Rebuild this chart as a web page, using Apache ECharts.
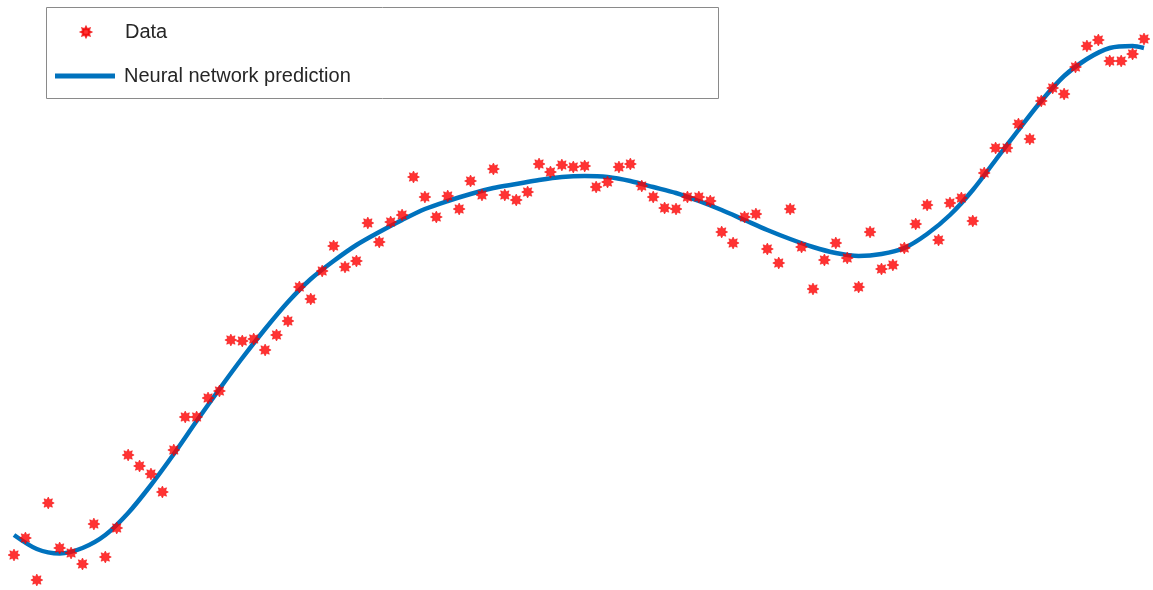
<!DOCTYPE html>
<html>
<head>
<meta charset="utf-8">
<title>Neural network fit</title>
<script src="https://cdn.jsdelivr.net/npm/echarts@6/dist/echarts.min.js"></script>
<style>
  html, body { margin: 0; padding: 0; background: #ffffff; }
  #chart { width: 1153px; height: 590px; }
</style>
</head>
<body>
<div id="chart"></div>
<script>
// Observed samples (index 0..99) and their noisy responses
const sampleX = Array.from({ length: 100 }, (_, i) => i);
const sampleY = [
  0.25, 0.42, 0.00, 0.77, 0.32, 0.27, 0.16, 0.56, 0.23, 0.52,
  1.25, 1.14, 1.06, 0.88, 1.30, 1.63, 1.63, 1.82, 1.89, 2.40,
  2.39, 2.41, 2.30, 2.45, 2.59, 2.93, 2.81, 3.09, 3.34, 3.13,
  3.19, 3.57, 3.38, 3.58, 3.65, 4.03, 3.83, 3.63, 3.84, 3.71,
  3.99, 3.85, 4.11, 3.85, 3.80, 3.88, 4.16, 4.08, 4.15, 4.13,
  4.14, 3.93, 3.98, 4.13, 4.16, 3.94, 3.83, 3.72, 3.71, 3.83,
  3.83, 3.79, 3.48, 3.37, 3.63, 3.66, 3.31, 3.17, 3.71, 3.33,
  2.91, 3.20, 3.37, 3.22, 2.93, 3.48, 3.11, 3.15, 3.32, 3.56,
  3.75, 3.40, 3.77, 3.82, 3.59, 4.07, 4.32, 4.32, 4.56, 4.41,
  4.79, 4.92, 4.86, 5.13, 5.34, 5.40, 5.19, 5.19, 5.26, 5.41
];

// Network output evaluated along the input range
const predX = [
  0, 2, 4, 6, 8, 10, 12, 14, 16, 18,
  20, 22, 24, 26, 28, 30, 32, 34, 36, 38,
  40, 42, 44, 46, 48, 50, 52, 54, 56, 58,
  60, 62, 64, 66, 68, 70, 72, 74, 76, 78,
  80, 82, 84, 86, 88, 90, 92, 94, 96, 98, 99
];
const predY = [
  0.45, 0.31, 0.265, 0.32, 0.45, 0.67, 0.95, 1.26, 1.59, 1.91,
  2.22, 2.51, 2.78, 3.01, 3.19, 3.35, 3.48, 3.60, 3.71, 3.79,
  3.86, 3.92, 3.96, 4.00, 4.03, 4.04, 4.03, 3.99, 3.93, 3.87,
  3.79, 3.70, 3.60, 3.50, 3.41, 3.33, 3.27, 3.24, 3.26, 3.32,
  3.46, 3.65, 3.90, 4.20, 4.50, 4.79, 5.04, 5.21, 5.32, 5.34, 5.32
];

const seriesNames = ['Data', 'Neural network prediction'];

// Eight-spoke asterisk marker
const asterisk = 'path://M20,10 L15.54,12.30 L17.07,17.07 L12.30,15.54 L10,20 L7.70,15.54 L2.93,17.07 L4.46,12.30 L0,10 L4.46,7.70 L2.93,2.93 L7.70,4.46 L10,0 L12.30,4.46 L17.07,2.93 L15.54,7.70 Z';

const legendFont = {
  fontFamily: 'Liberation Sans, Arial, sans-serif',
  fontSize: 20,
  color: '#262626'
};

const chart = echarts.init(document.getElementById('chart'), null, { renderer: 'canvas' });

chart.setOption({
  backgroundColor: '#ffffff',
  animation: false,
  grid: { left: 14, right: 9, top: 20, bottom: 10 },
  xAxis: { type: 'value', min: 0, max: 99, show: false },
  yAxis: { type: 'value', min: 0, max: 5.6, show: false },
  graphic: [{
    type: 'rect',
    left: 46, top: 7,
    shape: { width: 672, height: 91 },
    style: { fill: '#ffffff', stroke: '#8a8a8a', lineWidth: 1 },
    z: 0
  }],
  legend: [
    {
      left: 80, top: 22,
      itemWidth: 10, itemHeight: 10,
      padding: 0,
      z: 10,
      textStyle: Object.assign({ padding: [0, 0, 0, 29] }, legendFont),
      data: [{ name: seriesNames[0], icon: asterisk, itemStyle: { color: '#ff0000' } }]
    },
    {
      left: 55, top: 66,
      itemWidth: 60, itemHeight: 5,
      padding: 0,
      z: 10,
      textStyle: Object.assign({ padding: [0, 0, 0, 4] }, legendFont),
      data: [{ name: seriesNames[1], icon: 'rect', itemStyle: { color: '#0072BD' } }]
    }
  ],
  series: [
    {
      name: seriesNames[1],
      type: 'line',
      data: predX.map((x, i) => [x, predY[i]]),
      smooth: 0.3,
      symbol: 'none',
      lineStyle: { color: '#0072BD', width: 4.5 },
      itemStyle: { color: '#0072BD' },
      z: 2
    },
    {
      name: seriesNames[0],
      type: 'scatter',
      data: sampleX.map((x, i) => [x, sampleY[i]]),
      symbol: asterisk,
      symbolSize: 12,
      itemStyle: { color: '#ff0000', borderColor: '#f00000', borderWidth: 0.6 },
      clip: false,
      z: 3
    }
  ]
});
</script>
</body>
</html>
